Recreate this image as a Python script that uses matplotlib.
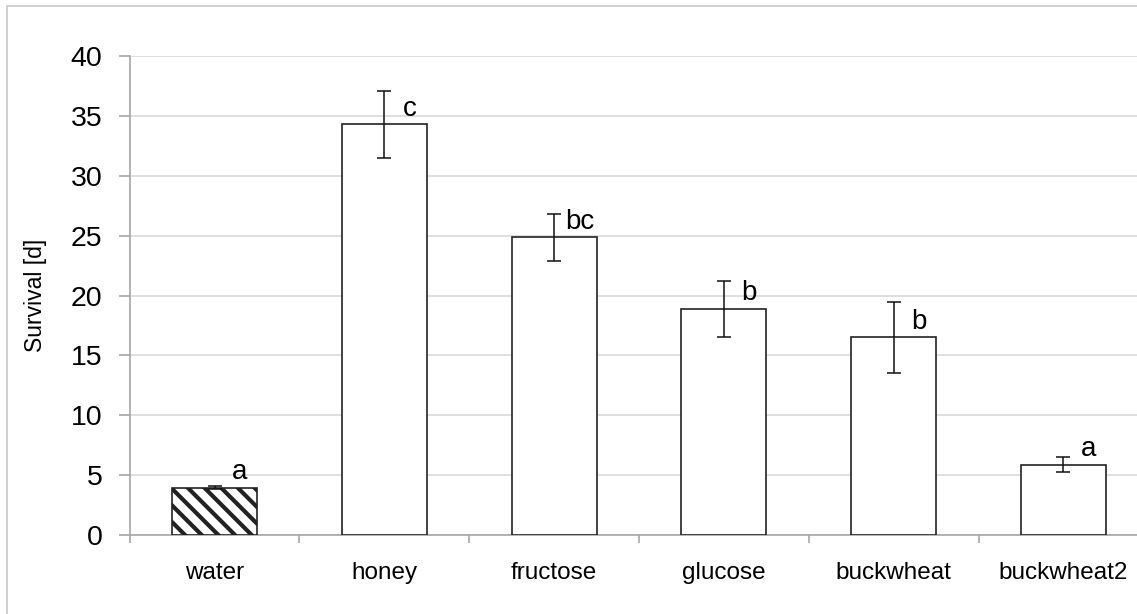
import matplotlib
matplotlib.use('Agg')
import numpy as np
import matplotlib.pyplot as plt
from matplotlib.patches import Rectangle

plt.rcParams['font.family'] = ['Liberation Sans', 'DejaVu Sans']
plt.rcParams['hatch.linewidth'] = 3.0

# values
categories = ['water', 'honey', 'fructose', 'glucose', 'buckwheat', 'buckwheat2']
survival = [3.95, 34.3, 24.85, 18.9, 16.5, 5.85]
errors = [0.15, 2.8, 2.0, 2.35, 2.95, 0.63]
letters = ['a', 'c', 'bc', 'b', 'b', 'a']
yticks = [0, 5, 10, 15, 20, 25, 30, 35, 40]

GRID = '#d9d9d9'
AXIS = '#a6a6a6'

fig = plt.figure(figsize=(11.37, 6.14), dpi=100)
# outer frame of the chart area (cut off right/bottom like the reference)
fig.patches.append(Rectangle((7 / 1137, -0.05), 1.1, 1 - 6 / 614 + 0.05,
                             transform=fig.transFigure, fill=False,
                             edgecolor='#c8c8c8', lw=1.2, zorder=0))

ax = fig.add_axes([0.114, 0.1287, 0.896, 0.780])
x = np.arange(len(categories))

bars = ax.bar(x, survival, width=0.5, color='white', edgecolor='#222222',
              linewidth=1.2, zorder=3)
bars[0].set_hatch('\\\\')
ax.errorbar(x, survival, yerr=errors, fmt='none', ecolor='#111111',
            elinewidth=1.1, capsize=5, capthick=1.1, zorder=4)

for xi, v, lab in zip(x, survival, letters):
    ax.text(xi + 0.15, v + 1.3, lab, ha='center', va='center', fontsize=20,
            zorder=5)

ax.set_xlim(-0.5, len(categories) - 0.5)
ax.set_ylim(0, 40)
ax.set_yticks(yticks)
ax.set_xticks(x)
ax.set_xticklabels(categories, fontsize=17.5)
ax.set_xticks(np.arange(len(categories) + 1) - 0.5, minor=True)
ax.tick_params(axis='x', which='major', length=0, pad=19.5)
ax.tick_params(axis='x', which='minor', length=6, color=AXIS, width=1.2,
               direction='out')
ax.tick_params(axis='y', labelsize=20.5, length=8, color=AXIS, width=1.2,
               pad=11.5)

ax.yaxis.grid(True, color=GRID, lw=1.2, zorder=0)
ax.set_axisbelow(True)
for s in ['top', 'right']:
    ax.spines[s].set_visible(False)
for s in ['left', 'bottom']:
    ax.spines[s].set_color(AXIS)
    ax.spines[s].set_linewidth(1.2)

ax.set_ylabel('Survival [d]', fontsize=16.5)
ax.yaxis.set_label_coords(-0.081, 0.5)

fig.savefig('out.png', dpi=100)
